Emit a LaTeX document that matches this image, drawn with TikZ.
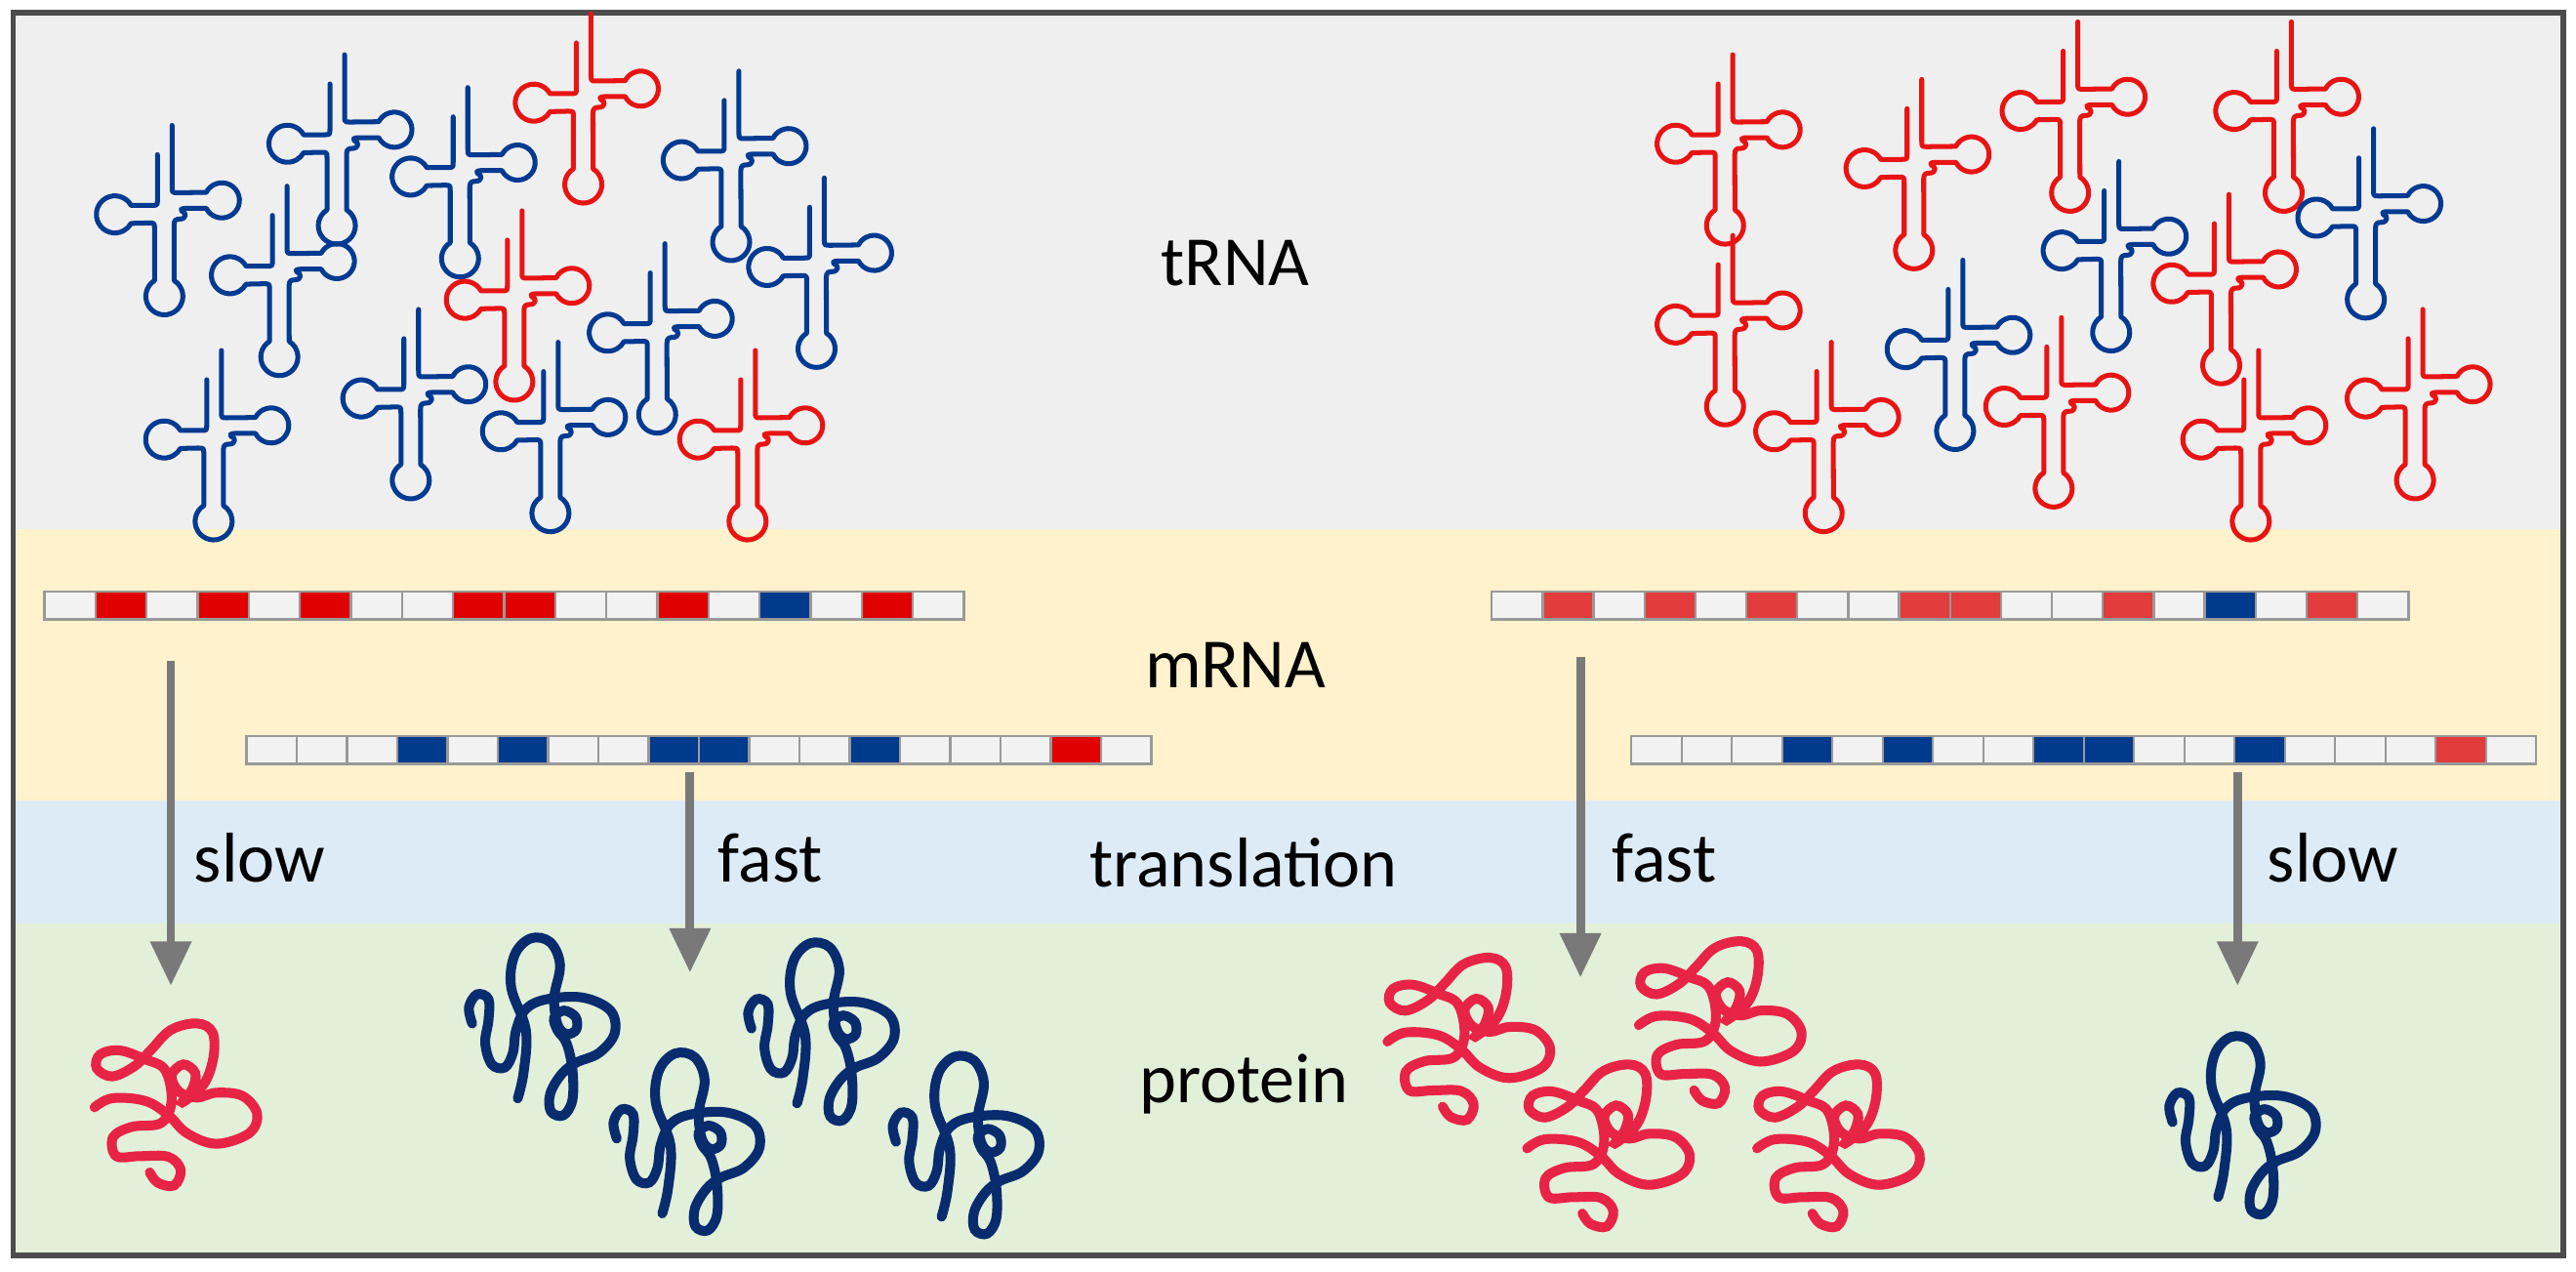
\documentclass[tikz,border=0pt]{standalone}
\usepackage{fontspec}
\setmainfont{Carlito}
\usetikzlibrary{arrows.meta}
\definecolor{tb}{RGB}{0,58,145}
\definecolor{tr}{RGB}{232,20,20}
\definecolor{pb}{RGB}{8,44,110}
\definecolor{pr}{RGB}{232,36,70}
\definecolor{bgA}{RGB}{239,239,239}
\definecolor{bgB}{RGB}{255,242,204}
\definecolor{bgC}{RGB}{221,235,247}
\definecolor{bgD}{RGB}{226,240,217}
\definecolor{cw}{RGB}{242,242,242}
\definecolor{cr}{RGB}{224,0,0}
\definecolor{cr2}{RGB}{226,60,60}
\definecolor{cb}{RGB}{0,58,140}
\tikzset{
  x=0.1mm, y=-0.1mm,
  lab/.style={font=\fontsize{12.2}{14}\selectfont, inner sep=0pt},
  arr/.style={draw=gray!95!black, line width=1.5pt, -{Triangle[width=2.4mm,length=2.7mm]}},
  cell/.style={draw=gray!80, line width=0.4pt},
  pics/trna/.style={code={
    \begin{scope}[scale=0.594, yscale=-1, line width=0.85pt, line join=round, line cap=round]
    \draw (-7,57) -- (-7,11) .. controls (-7,5) .. (-13,5) -- (-34,5)
      arc[start angle=29, end angle=331, radius=19] -- (-4+-12,-13) .. controls (-10,-13) .. (-10,-19) -- (-10,-72)
      arc[start angle=122, end angle=418, radius=19] -- (10,-22) -- (10,-15)
      .. controls (10,-10) and (12,-9) .. (16,-9) .. controls (23,-9) and (23,-2) .. (18,-1)
      .. controls (16,0) and (17,2) .. (22,2)
      -- (43,2) arc[start angle=207, end angle=513, radius=18] -- (14,18) .. controls (8,18) .. (8,24) -- (8,87);
    \end{scope}}},
  pics/pblue/.style={code={
    \draw[line width=1.7pt, line cap=round, scale=0.198, shift={(-325,-290)}]
      plot[smooth, tension=0.6] coordinates {(110,280) (100,230) (125,190) (160,205) (160,270) (150,340) (170,405) (210,415) (235,370) (245,300) (275,235) (340,205) (450,200) (535,240) (548,310) (500,370) (430,400) (385,435) (350,495) (352,550) (390,562) (418,515) (418,420) (400,340) (372,300) (362,262) (392,240) (428,260) (430,298) (400,312) (372,282) (362,200) (380,100) (350,30) (290,18) (240,70) (230,170) (275,300) (268,430) (250,510)};}},
  pics/pred/.style={code={
    \draw[line width=1.7pt, line cap=round, scale=0.198, shift={(-300,-260)}]
      plot[smooth, tension=0.6] coordinates {(45,270) (100,242) (200,250) (270,292) (330,350) (420,382) (520,350) (545,290) (500,235) (420,225) (360,240) (305,222) (282,172) (318,138) (355,165) (345,215) (315,255) (380,200) (410,120) (408,40) (360,12) (280,32) (220,92) (170,142) (100,175) (52,150) (62,108) (122,95) (200,122) (262,155) (282,250) (250,318) (160,330) (102,362) (112,420) (185,420) (272,422) (310,462) (290,510) (240,502) (215,470)};}}
}
\begin{document}
\begin{tikzpicture}
\useasboundingbox (0,0) rectangle (1568,774);
\fill[bgA] (8,8) rectangle (1560,322);
\fill[bgB] (8,322) rectangle (1560,487);
\fill[bgC] (8,487) rectangle (1560,562);
\fill[bgD] (8,562) rectangle (1560,764);
\draw[gray!60!black, line width=1pt] (8,8) rectangle (1560,764);

% tRNAs
\foreach \x/\y/\c in {100/128/tb,205/85/tb,280/105/tb,355/60/tr,445/95/tb,170/165/tb,313/180/tr,400/200/tb,497/160/tb,130/265/tb,250/240/tb,335/260/tb,455/265/tr,
1050/85/tr,1165/100/tr,1260/65/tr,1390/65/tr,1285/150/tb,1440/130/tb,1050/195/tr,1190/210/tb,1352/170/tr,1110/260/tr,1250/245/tr,1370/265/tr,1470/240/tr}
  \pic[draw=\c] at (\x,\y) {trna};

% mRNA strands
\foreach \col [count=\i from 0] in {cw,cr,cw,cr,cw,cr,cw,cw,cr,cr,cw,cw,cr,cw,cb,cw,cr,cw}
  \filldraw[cell, fill=\col] ({27+\i*31.1},360) rectangle ++(31.1,17);
\foreach \col [count=\i from 0] in {cw,cw,cw,cb,cw,cb,cw,cw,cb,cb,cw,cw,cb,cw,cw,cw,cr,cw}
  \filldraw[cell, fill=\col] ({150+\i*30.6},448) rectangle ++(30.6,17);
\foreach \col [count=\i from 0] in {cw,cr2,cw,cr2,cw,cr2,cw,cw,cr2,cr2,cw,cw,cr2,cw,cb,cw,cr2,cw}
  \filldraw[cell, fill=\col] ({908+\i*31},360) rectangle ++(31,17);
\foreach \col [count=\i from 0] in {cw,cw,cw,cb,cw,cb,cw,cw,cb,cb,cw,cw,cb,cw,cw,cw,cr2,cw}
  \filldraw[cell, fill=\col] ({993+\i*30.6},448) rectangle ++(30.6,17);

% labels
\node[lab] (ltrna) at (752,160) {tRNA};
\node[lab] (lmrna) at (752,405) {mRNA};
\node[lab] (ltrans) at (757,525) {translation};
\node[lab] (lprot) at (757,660) {protein};
\node[lab] (s1) at (158,522) {slow};
\node[lab] (f1) at (469,522) {fast};
\node[lab] (f2) at (1013,522) {fast};
\node[lab] (s2) at (1420,522) {slow};

% arrows
\coordinate (a1s) at (104,402); \coordinate (a1e) at (104,600);
\coordinate (a2s) at (420,470); \coordinate (a2e) at (420,592);
\coordinate (a3s) at (962,400); \coordinate (a3e) at (962,595);
\coordinate (a4s) at (1362,470); \coordinate (a4e) at (1362,600);
\draw[arr] (a1s) -- (a1e);
\draw[arr] (a2s) -- (a2e);
\draw[arr] (a3s) -- (a3e);
\draw[arr] (a4s) -- (a4e);

% proteins
\pic[draw=pr] at (108,672) {pred};
\pic[draw=pr] at (895,632) {pred};
\pic[draw=pr] at (980,697) {pred};
\pic[draw=pr] at (1048,622) {pred};
\pic[draw=pr] at (1120,697) {pred};
\pic[draw=pb] at (330,625) {pblue};
\pic[draw=pb] at (418,695) {pblue};
\pic[draw=pb] at (500,628) {pblue};
\pic[draw=pb] at (588,697) {pblue};
\pic[draw=pb] at (1365,685) {pblue};
\end{tikzpicture}
\end{document}
